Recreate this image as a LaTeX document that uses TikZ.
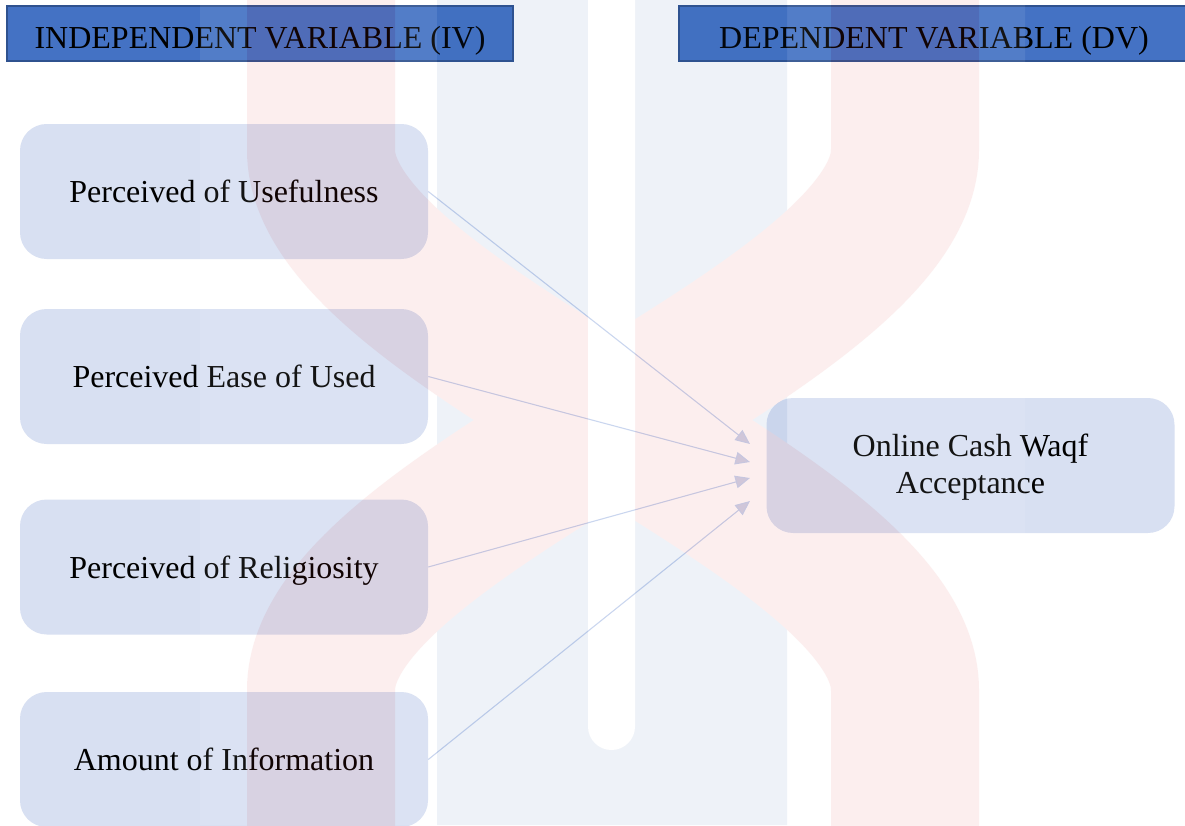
\documentclass[tikz,border=0pt]{standalone}
\usepackage{fontspec}
\setmainfont{Liberation Serif}
\usetikzlibrary{arrows.meta}
\definecolor{hdrfill}{HTML}{4472C4}
\definecolor{hdrline}{HTML}{2F528F}
\definecolor{boxfill}{HTML}{D8E0F2}
\definecolor{linkcol}{HTML}{C6D3EE}
\definecolor{headcol}{HTML}{CFD3E8}
\definecolor{logored}{RGB}{220,50,50}
\definecolor{logoblue}{RGB}{42,92,167}
\begin{document}
\begin{tikzpicture}[x=0.75pt,y=-0.75pt,
  header/.style={draw=hdrline, line width=1.1pt, fill=hdrfill, inner sep=0pt,
    minimum height=41.25pt, font=\fontsize{24}{28}\selectfont, text=black,
    text height=21.8pt, text depth=0pt},
  boxbase/.style={fill=boxfill, rounded corners=20pt, minimum width=306pt,
    minimum height=101.25pt, inner sep=0pt},
  varbox/.style={boxbase, font=\fontsize{24}{28}\selectfont,
    text height=18pt, text depth=1.5pt},
  boxtext/.style={font=\fontsize{24}{27.75}\selectfont, align=center, inner sep=0pt},
  link/.style={draw=linkcol, line width=0.8pt,
    -{Triangle[length=11pt,width=9.5pt,fill=headcol]}}
]
\useasboundingbox (0,0) rectangle (1185,825);
\fill[white] (0,0) rectangle (1185,825);

% column headers
\node[header, minimum width=379.5pt] (ivhead) at (260,33.5) {INDEPENDENT VARIABLE (IV)};
\node[header, minimum width=382.5pt] (dvhead) at (934,33.5) {DEPENDENT VARIABLE (DV)};

% independent variables
\node[varbox] (pu) at (224,191.5) {Perceived of Usefulness};
\node[varbox] (pe) at (224,376.5) {Perceived Ease of Used};
\node[varbox] (pr) at (224,567) {Perceived of Religiosity};
\node[varbox] (ai) at (224,759.5) {Amount of Information};

% dependent variable
\node[boxbase] (ocw) at (970.5,465.5) {};
\node[boxtext] (ocwtext) at (970.5,467.5) {Online Cash Waqf\\Acceptance};

% arrow tips in front of the dependent variable
\coordinate (t1) at (750,444);
\coordinate (t2) at (750,462);
\coordinate (t3) at (750,478);
\coordinate (t4) at (750,501);

\draw[link] (pu.east) -- (t1);
\draw[link] (pe.east) -- (t2);
\draw[link] (pr.east) -- (t3);
\draw[link] (ai.east) -- (t4);

% faint emblem laid over the page
\begin{scope}[transparency group, opacity=0.08]
  \fill[white] (200,0) rectangle (1025,825);
  \fill[logoblue] (437,0) rectangle (787,825);
  \draw[logored, line width=111pt]
    (321,-20) -- (321,150) .. controls (321,330) and (905,510) .. (905,690) -- (905,845)
    (905,-20) -- (905,150) .. controls (905,330) and (321,510) .. (321,690) -- (321,845);
  \fill[white, rounded corners=17.6pt] (588,-40) rectangle (635,750);
\end{scope}
\end{tikzpicture}
\end{document}
